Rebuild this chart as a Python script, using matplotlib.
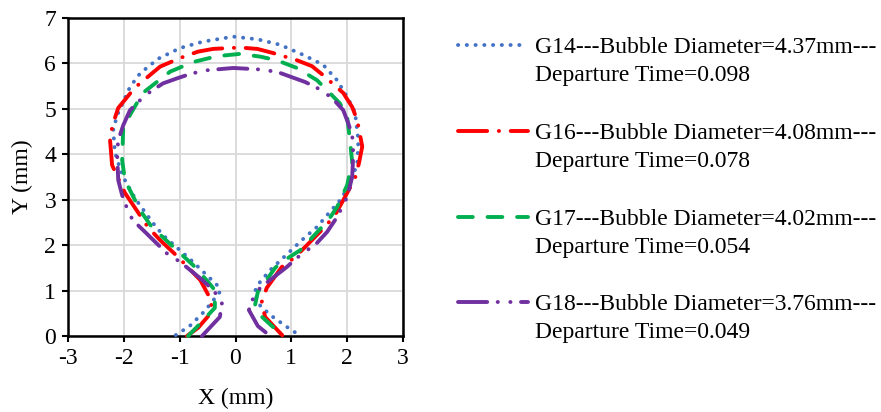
"""Bubble contour comparison at departure for cases G14, G16, G17 and G18."""

import matplotlib
matplotlib.use("Agg")
import matplotlib.pyplot as plt
from matplotlib.lines import Line2D

plt.rcParams['font.family'] = ['Liberation Serif', 'DejaVu Serif']
plt.rcParams['axes.unicode_minus'] = False

# contour points (mm), bottom-left -> top -> bottom-right
g14_x = [-1.07, -0.82, -0.55, -0.28, -0.33, -0.55, -0.76, -1.08, -1.30, -1.48,
         -1.80, -1.98, -2.07, -2.16, -2.19, -2.12, -1.89, -1.71, -1.39, -0.99,
         -0.58, -0.04, 0.40, 0.80, 1.21, 1.57, 1.82, 2.00, 2.14, 2.20,
         2.18, 2.11, 1.91, 1.64, 1.46, 1.25, 0.94, 0.62, 0.44, 0.33,
         0.45, 0.67, 0.92, 1.14]
g14_y = [0.02, 0.22, 0.55, 0.97, 1.12, 1.38, 1.63, 1.98, 2.22, 2.49,
         3.03, 3.43, 3.69, 4.05, 4.53, 4.86, 5.48, 5.78, 6.10, 6.34,
         6.48, 6.59, 6.53, 6.41, 6.19, 5.97, 5.63, 5.26, 4.93, 4.31,
         3.76, 3.58, 3.04, 2.66, 2.40, 2.18, 1.82, 1.45, 1.19, 0.95,
         0.65, 0.42, 0.20, 0.02]

g16_x = [-0.87, -0.67, -0.48, -0.42, -0.63, -1.03, -1.35, -1.57, -1.98, -2.21,
         -2.25, -2.19, -2.10, -1.80, -1.35, -0.99, -0.67, -0.40, 0.08, 0.39,
         0.67, 1.10, 1.37, 1.57, 1.93, 2.09, 2.18, 2.27, 2.21, 2.14,
         1.93, 1.78, 1.60, 1.28, 1.07, 0.83, 0.56, 0.47, 0.53, 0.85]
g16_y = [0.00, 0.18, 0.45, 0.75, 1.23, 1.74, 2.11, 2.40, 3.15, 3.76,
         4.36, 4.69, 5.02, 5.47, 5.93, 6.12, 6.26, 6.32, 6.35, 6.32,
         6.23, 6.07, 5.94, 5.74, 5.35, 5.04, 4.75, 4.17, 3.80, 3.47,
         2.99, 2.66, 2.40, 2.00, 1.74, 1.52, 1.06, 0.75, 0.42, 0.00]

g17_x = [-0.85, -0.69, -0.37, -0.37, -0.49, -0.76, -1.05, -1.50, -1.71, -1.98,
         -2.03, -2.01, -1.85, -1.66, -1.17, -0.76, -0.33, 0.08, 0.44, 0.74,
         1.10, 1.46, 1.64, 1.87, 2.00, 2.05, 2.09, 2.00, 1.82, 1.64,
         1.55, 1.16, 0.83, 0.71, 0.53, 0.40, 0.35, 0.44, 0.67, 0.83]
g17_y = [0.00, 0.20, 0.62, 1.01, 1.19, 1.56, 1.89, 2.40, 2.77, 3.43,
         3.87, 4.60, 4.95, 5.35, 5.82, 6.03, 6.16, 6.21, 6.15, 6.07,
         5.90, 5.63, 5.41, 5.12, 4.82, 4.31, 3.83, 3.32, 2.84, 2.51,
         2.40, 1.89, 1.63, 1.50, 1.19, 0.97, 0.68, 0.46, 0.20, 0.02]

g18_x = [-0.60, -0.28, -0.24, -0.40, -0.63, -0.99, -1.23, -1.62, -1.84, -1.93,
         -2.03, -2.10, -2.12, -2.10, -2.01, -1.89, -1.62, -1.30, -1.05, -0.78,
         -0.51, -0.04, 0.26, 0.53, 0.80, 1.25, 1.51, 1.73, 1.93, 2.02,
         2.09, 2.11, 2.09, 2.00, 1.82, 1.64, 1.46, 1.10, 0.92, 0.44,
         0.30, 0.24, 0.40, 0.62]
g18_y = [0.00, 0.42, 0.75, 1.01, 1.27, 1.63, 1.82, 2.29, 2.55, 2.77,
         3.10, 3.43, 4.02, 4.31, 4.64, 4.97, 5.30, 5.56, 5.67, 5.78,
         5.85, 5.90, 5.88, 5.86, 5.79, 5.59, 5.43, 5.24, 4.97, 4.68,
         4.42, 4.02, 3.50, 3.06, 2.62, 2.29, 2.05, 1.72, 1.52, 1.06,
         0.79, 0.57, 0.22, 0.00]

labels = [
    "G14---Bubble Diameter=4.37mm---\nDeparture Time=0.098",
    "G16---Bubble Diameter=4.08mm---\nDeparture Time=0.078",
    "G17---Bubble Diameter=4.02mm---\nDeparture Time=0.054",
    "G18---Bubble Diameter=3.76mm---\nDeparture Time=0.049",
]
colors = ['#4472C4', '#FF0000', '#00B050', '#7030A0']
lw = 2.8
dashes = [
    (0, (0.05, 2.2)),                              # round dot
    (0, (7.5, 3.0, 0.05, 3.0)),                    # long dash dot
    (0, (3.8, 3.8)),                               # dash
    (0, (7.5, 2.7, 0.05, 3.2, 0.05, 2.7)),         # long dash dot dot
]

W, H = 881, 412
fs = 17
fig = plt.figure(figsize=(W / 100, H / 100), dpi=100)
ax = fig.add_axes([68 / W, 1 - 336 / H, 335 / W, 318 / H])

series = [(g14_x, g14_y), (g16_x, g16_y), (g17_x, g17_y), (g18_x, g18_y)]
for (xs, ys), c, ls in zip(series, colors, dashes):
    ax.plot(xs, ys, color=c, linestyle=ls, linewidth=lw,
            dash_capstyle='round', clip_on=False, zorder=3)

ax.set_xlim(-3, 3)
ax.set_ylim(0, 7)
ax.set_xticks(range(-3, 4))
ax.set_yticks(range(0, 8))
ax.grid(True, color='#D9D9D9', linewidth=1.3)
ax.set_axisbelow(True)
for sp in ax.spines.values():
    sp.set_linewidth(1.8)
    sp.set_color('black')
ax.tick_params(direction='out', length=4.5, width=1.5, labelsize=fs,
               color='black', pad=4)
ax.set_xlabel('X (mm)', fontsize=fs, labelpad=14)
ax.set_ylabel('Y (mm)', fontsize=fs, labelpad=8)

# legend, Excel style: handle sits on the first line of a two-line label
row_y = [45, 131, 217, 302]     # pixel rows of the handles
for lab, c, ls, py in zip(labels, colors, dashes, row_y):
    yf = 1 - py / H
    fig.add_artist(Line2D([458 / W, 528 / W], [yf, yf], transform=fig.transFigure,
                          color=c, linestyle=ls, linewidth=lw,
                          dash_capstyle='round'))
    first, second = lab.split('\n')
    fig.text(535 / W, 1 - (py + 8) / H, first, fontsize=fs, va='baseline')
    fig.text(535 / W, 1 - (py + 36) / H, second, fontsize=fs, va='baseline')

fig.savefig('out.png', dpi=100)
